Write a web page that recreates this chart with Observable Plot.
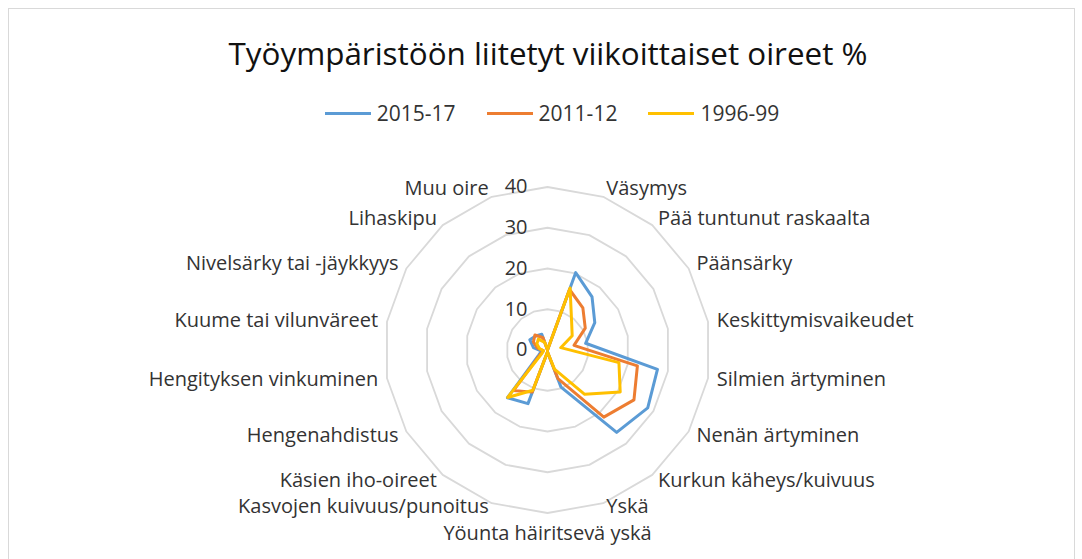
<!DOCTYPE html>
<html><head><meta charset="utf-8">
<script src="https://cdn.jsdelivr.net/npm/d3@7"></script>
<script src="https://cdn.jsdelivr.net/npm/@observablehq/plot@0.6"></script>
<style>
body{margin:0;background:#fff;font-family:"Open Sans",sans-serif;}
#frame{position:absolute;left:8px;top:8px;width:1067px;height:620px;border:1px solid #d9d9d9;box-sizing:border-box;}
#title{position:absolute;left:0;top:31px;width:1096px;height:44px;line-height:44px;text-align:center;font-size:31.4px;font-weight:400;color:#111;white-space:nowrap;}
#legend{position:absolute;left:0;top:99px;width:1104px;height:28px;line-height:28px;display:flex;justify-content:center;align-items:center;font-size:21px;color:#333;}
.item{display:flex;align-items:center;margin:0 15.5px;}
.sw{width:46px;height:3px;margin-right:6px;}
#chart{position:absolute;left:0;top:136px;}
</style></head><body>
<div id="frame"></div>
<div id="title">Työympäristöön liitetyt viikoittaiset oireet %</div>
<div id="legend"></div>
<div id="chart"></div>
<script>
const categories = ["", "Väsymys", "Pää tuntunut raskaalta", "Päänsärky", "Keskittymisvaikeudet",
  "Silmien ärtyminen", "Nenän ärtyminen", "Kurkun käheys/kuivuus", "Yskä", "Yöunta häiritsevä yskä",
  "Kasvojen kuivuus/punoitus", "Käsien iho-oireet", "Hengenahdistus", "Hengityksen vinkuminen",
  "Kuume tai vilunväreet", "Nivelsärky tai -jäykkyys", "Lihaskipu", "Muu oire"];
const seriesNames = ["2015-17", "2011-12", "1996-99"];
const values2015 = [0, 20.2, 17.0, 13.4, 9.5, 27.4, 28.4, 26.4, 9.7, 0.5, 14.0, 15.3, 2.5, 1.5, 3.5, 5.0, 4.5, 4.1];
const values2011 = [0, 15.8, 13.5, 10.7, 6.6, 22.4, 24.5, 21.5, 7.5, 0.5, 11.0, 13.0, 2.0, 1.0, 2.5, 4.0, 4.8, 3.2];
const values1996 = [0, 16.2, 9.2, 7.0, 3.3, 17.8, 20.6, 14.2, 5.0, 0.5, 10.5, 15.2, 1.5, 1.0, 2.0, 3.0, 3.5, 2.0];
const tickValues = [0, 10, 20, 30, 40];
const colors = ["#5B9BD5", "#ED7D31", "#FFC000"];

const n = categories.length;
const ang = i => 2 * Math.PI * i / n;
const px = (v, i) => v * Math.sin(ang(i));
const py = (v, i) => v * Math.cos(ang(i));
const maxV = d3.max(tickValues);
const labelR = maxV * 1.055;

const seriesValues = [values2015, values2011, values1996];
const points = seriesNames.flatMap((s, k) => seriesValues[k].map((v, i) => ({series: s, i, v})));
const rings = tickValues.filter(t => t > 0).flatMap(t => categories.map((c, i) => ({t, i})));
const labels = categories.map((c, i) => ({c, i})).filter(d => d.c);
const side = d => {
  const s = Math.sin(ang(d.i)), c = Math.cos(ang(d.i));
  const h = s > 0 ? "right" : "left";
  if (Math.abs(s) < 0.1) return "bottom";
  if (c < -0.9) return "low" + h;
  if (c < -0.7) return "mid" + h;
  return h;
};
const lab = (group, opts) => Plot.text(labels.filter(d => side(d) === group), {
  x: d => px(labelR, d.i), y: d => py(labelR, d.i), text: "c",
  fontSize: 20, fill: "#333", ...opts
});

const cx = 547, cy = 213.5, R = 163;
const chart = Plot.plot({
  width: 1082, height: 423,
  style: {fontFamily: "Open Sans", background: "transparent"},
  x: {domain: [-maxV, maxV], range: [cx - R, cx + R], axis: null},
  y: {domain: [-maxV, maxV], range: [cy + R, cy - R], axis: null},
  color: {domain: seriesNames, range: colors},
  marks: [
    Plot.line(rings, {x: d => px(d.t, d.i), y: d => py(d.t, d.i), z: "t", stroke: "#d9d9d9", strokeWidth: 1.8, curve: "linear-closed"}),
    Plot.line(points, {x: d => px(d.v, d.i), y: d => py(d.v, d.i), z: "series", stroke: "series", strokeWidth: 3, curve: "linear-closed", strokeLinejoin: "round"}),
    Plot.text(tickValues, {x: 0, y: d => d, text: d => String(d), dx: -20, textAnchor: "end", fontSize: 20, fill: "#333"}),
    lab("right", {textAnchor: "start"}),
    lab("left", {textAnchor: "end"}),
    lab("midright", {textAnchor: "start", dy: -1.5}),
    lab("midleft", {textAnchor: "end", dy: -1.5}),
    lab("lowright", {textAnchor: "start", dy: -5.5}),
    lab("lowleft", {textAnchor: "end", dy: -5.5}),
    lab("bottom", {textAnchor: "middle", lineAnchor: "top", dy: 4})
  ]
});
document.getElementById("chart").appendChild(chart);

const legend = d3.select("#legend");
seriesNames.forEach((s, k) => {
  const it = legend.append("div").attr("class", "item");
  it.append("div").attr("class", "sw").style("background", colors[k]);
  it.append("span").text(s);
});
</script></body></html>
